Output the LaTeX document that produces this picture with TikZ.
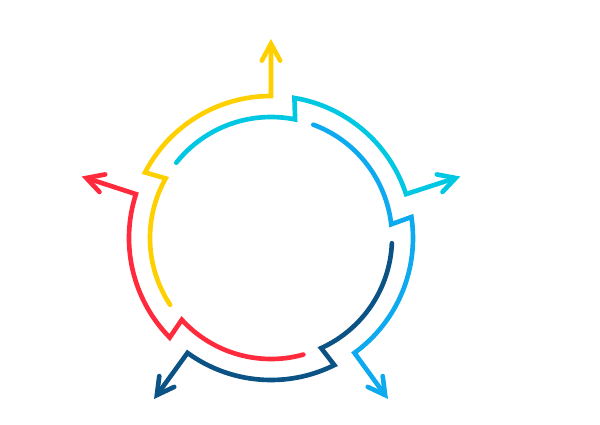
\documentclass[tikz,border=0pt]{standalone}
\usepackage{xcolor}
\usepackage{tikz}
\usetikzlibrary{arrows.meta}
\definecolor{bg}{HTML}{FFFFFF}
\definecolor{yel}{HTML}{FFD000}
\definecolor{cyn}{HTML}{00C8E2}
\definecolor{blu}{HTML}{0DAAF0}
\definecolor{nav}{HTML}{0B5384}
\definecolor{red}{HTML}{FF2A3C}
\tikzset{
  ring/.style={line width=3.3pt, line cap=round, line join=miter},
  exit/.style={-{Straight Barb[length=4.2mm, width=4.6mm, line cap=round]}}
}

\begin{document}
\begin{tikzpicture}[x=0.025cm, y=0.025cm]
  \useasboundingbox[fill=bg] (-271,-186) rectangle (329,238);

  % five arcs, each stepping out and leaving by an arrow
  \foreach \a/\c in {90/yel, 18/cyn, -54/blu, -126/nav, 162/red}{
    \draw[ring, exit, draw=\c]
      (\a+123.5:121) arc[start angle=\a+123.5, end angle=\a+60.5, radius=121]
      -- (\a+62.5:142) arc[start angle=\a+62.5, end angle=\a, radius=142]
      -- (\a:199);
  }
\end{tikzpicture}
\end{document}
